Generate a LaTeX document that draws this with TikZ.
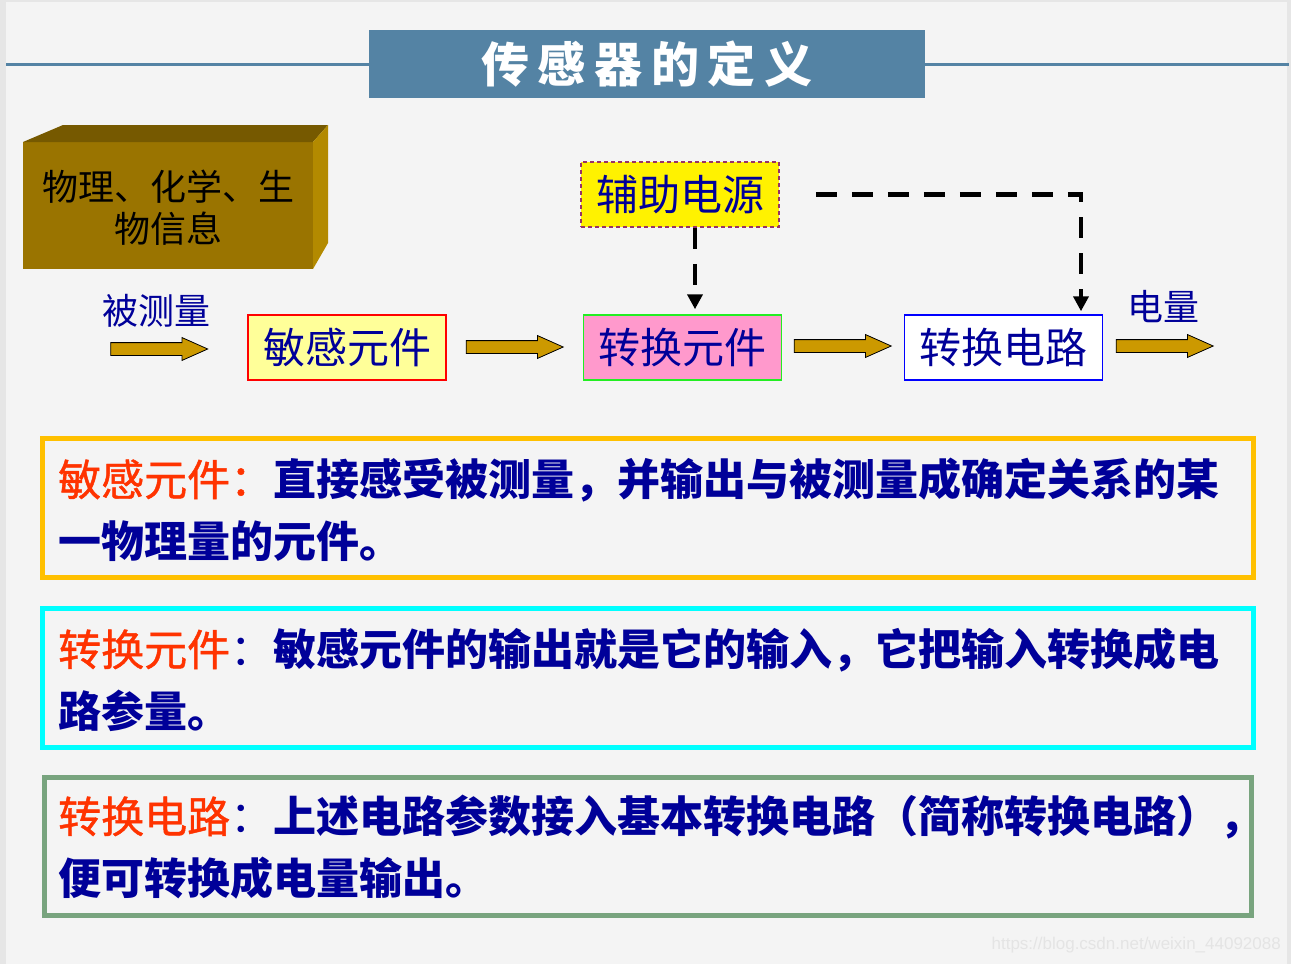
\documentclass[tikz,border=0pt]{standalone}
\usepackage{fontspec}
\setmainfont{Noto Sans CJK SC}
\newfontfamily\urlfont{Liberation Sans}
\usetikzlibrary{arrows.meta,shapes.arrows}
\definecolor{slidebg}{HTML}{F4F4F4}
\definecolor{slideedge}{HTML}{E6E6E6}
\definecolor{titleblue}{HTML}{5483A4}
\definecolor{gold}{HTML}{CC9900}
\definecolor{navy}{HTML}{000099}
\definecolor{hot}{HTML}{FF3300}
\definecolor{boxtop}{HTML}{765900}
\definecolor{boxfront}{HTML}{9A7400}
\definecolor{boxside}{HTML}{B38A00}
\definecolor{paleyellow}{HTML}{FFFF99}
\definecolor{pink}{HTML}{FF99CC}
\definecolor{leaf}{HTML}{22EE22}
\definecolor{plum}{HTML}{993366}
\definecolor{amber}{HTML}{FFC000}
\definecolor{aqua}{HTML}{00FFFF}
\definecolor{sage}{HTML}{78A47E}
\definecolor{mark}{HTML}{E4E4E4}

\begin{document}
\begin{tikzpicture}[x=1pt,y=-1pt]
	\tikzstyle{every node}+=[inner sep=0pt]
	\tikzstyle{flowbox}=[draw,line width=1.5pt,minimum width=198pt,minimum height=65pt,text=navy,font=\fontsize{42}{42}\selectfont]
	\tikzstyle{goldarrow}=[single arrow,draw=black,line width=0.8pt,fill=gold,minimum height=97pt,inner ysep=6pt,inner xsep=0pt,single arrow head extend=5pt,single arrow tip angle=48]
	\tikzstyle{feed}=[black,line width=4.5pt,dash pattern=on 21pt off 15pt,-{Triangle[width=15pt,length=15pt]}]
	\tikzstyle{defbox}=[line width=5pt]
	\tikzstyle{deftext}=[anchor=north west,align=left,text=navy,font=\fontsize{43}{62}\selectfont\bfseries]
	\tikzstyle{tag}=[text=navy,font=\fontsize{36}{36}\selectfont]
	\useasboundingbox (0,0) rectangle (1291,964);
	\fill [slideedge] (0,0) rectangle (1291,964);
	\fill [slidebg] (6,2) rectangle (1287,964);
	\draw [titleblue,line width=3pt] (6,64) -- (1289,64);
	\node [fill=titleblue,minimum width=556pt,minimum height=68pt,text=white,font=\fontsize{48}{48}\selectfont\bfseries\addfontfeature{LetterSpace=18}] (title) at (647,64) {传感器的定义};
	\fill [boxfront] (23,142) rectangle (313,269);
	\fill [boxtop] (23,142) -- (63,125) -- (328,125) -- (313,142) -- cycle;
	\fill [boxside] (313,142) -- (328,125) -- (328,243) -- (313,269) -- cycle;
	\node [align=center,font=\fontsize{36}{42}\selectfont] (info) at (168,208) {物理、化学、生\\物信息};
	\node [tag] (meas) at (156,311) {被测量};
	\node [tag] (elec) at (1163,307) {电量};
	\node [flowbox,draw=red,fill=paleyellow] (sens) at (347,347.5) {敏感元件};
	\node [flowbox,draw=leaf,fill=pink] (conv) at (682.5,347.5) {转换元件};
	\node [flowbox,draw=blue,fill=white] (circ) at (1003.5,347.5) {转换电路};
	\node [flowbox,draw=plum,dash pattern=on 4pt off 3pt,fill=yellow] (aux) at (680,194.5) {辅助电源};
	\node [goldarrow] (in) at (152,349) {};
	\node [goldarrow] (a2) at (507.5,347) {};
	\node [goldarrow] (a3) at (835.5,346) {};
	\node [goldarrow] (out) at (1157.5,346) {};
	\draw [feed,shorten >=5pt] ([xshift=15pt]aux.south) -- ([xshift=15pt]aux.south |- conv.north);
	\draw [feed,shorten >=3pt] ([xshift=36pt]aux.east) -| ([xshift=77.5pt]circ.north);
	\draw [amber,defbox] (42,438) rectangle (1253,577);
	\node [deftext] (def1) at (58,458) {{\mdseries\addfontfeature{FakeBold=1}\color{hot}敏感元件：}直接感受被测量，并输出与被测量成确定关系的某\\一物理量的元件。};
	\draw [aqua,defbox] (42,608) rectangle (1253,747);
	\node [deftext] (def2) at (58,628) {{\mdseries\addfontfeature{FakeBold=1}\color{hot}转换元件}{\mdseries ：}敏感元件的输出就是它的输入，它把输入转换成电\\路参量。};
	\draw [sage,defbox] (44,777) rectangle (1251,915);
	\node [deftext] (def3) at (58,795) {{\mdseries\addfontfeature{FakeBold=1}\color{hot}转换电路}{\mdseries ：}上述电路参数接入基本转换电路（简称转换电路），\\便可转换成电量输出。};
	\node [anchor=east,text=mark,font=\urlfont\fontsize{17}{17}\selectfont] (wm) at (1281,945) {https://blog.csdn.net/weixin\_44092088};
\end{tikzpicture}
\end{document}
